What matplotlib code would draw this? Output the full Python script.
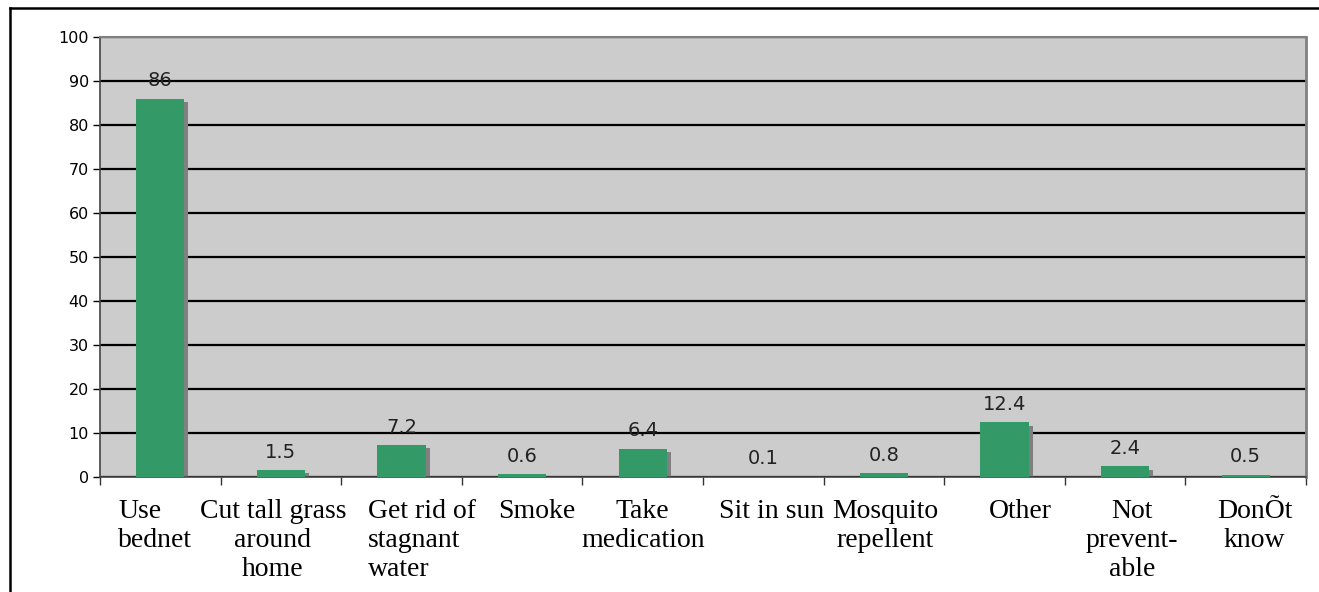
import matplotlib.pyplot as plt
import matplotlib.transforms as mtransforms
from matplotlib.lines import Line2D
import numpy as np

categories = ['Use\nbednet', 'Cut tall grass\naround\nhome', 'Get rid of\nstagnant\nwater', 'Smoke',
              'Take\nmedication', 'Sit in sun', 'Mosquito\nrepellent', 'Other',
              'Not\nprevent-\nable', 'DonÕt\nknow']
values = [86, 1.5, 7.2, 0.6, 6.4, 0.1, 0.8, 12.4, 2.4, 0.5]
value_labels = ['86', '1.5', '7.2', '0.6', '6.4', '0.1', '0.8', '12.4', '2.4', '0.5']
yticks = [0, 10, 20, 30, 40, 50, 60, 70, 80, 90, 100]

BAR = '#339966'
SHADOW = '#808080'
PLOT_BG = '#cccccc'

fig = plt.figure(figsize=(13.19, 5.92), dpi=100)
fig.patch.set_facecolor('white')
ax = fig.add_axes([100 / 1319, 1 - 477 / 592, 1206 / 1319, 440 / 592])
ax.set_facecolor(PLOT_BG)

x = np.arange(len(values))
w = 0.4
# shadow first, then the bar
px = 1.0 / 120.6
ax.bar(x + 4 * px, values, width=w, bottom=[-0.7] * len(values), color=SHADOW, zorder=2)
ax.bar(x, values, width=w, color=BAR, zorder=3)

ax.set_xlim(-0.5, len(values) - 0.5)
ax.set_ylim(0, 100)
ax.set_yticks(yticks)
ax.yaxis.grid(True, color='black', linewidth=1.6)
ax.set_axisbelow(True)
ax.tick_params(axis='y', direction='out', length=5, width=1, labelsize=11.5, pad=3, colors='black')
for lab in ax.get_yticklabels():
    lab.set_family('DejaVu Sans')

ax.set_xticks(np.arange(len(values) + 1) - 0.5)
ax.set_xticklabels([])
ax.tick_params(axis='x', direction='out', length=6, width=1, colors='#333333')

for s in ['left', 'bottom']:
    ax.spines[s].set_color('#444444')
    ax.spines[s].set_linewidth(1.2)
ax.spines['top'].set_color('#808080')
ax.spines['top'].set_linewidth(1.5)
ax.spines['right'].set_color('#808080')
ax.spines['right'].set_linewidth(2)

for i, (v, t) in enumerate(zip(values, value_labels)):
    ax.annotate(t, xy=(i, v), xytext=(0, 13), textcoords='offset points',
                ha='center', va='center', fontsize=14, family='DejaVu Sans', color='#222222', zorder=5)

# excel places the category labels a bit unevenly; shift in pixels
shift_px = [-5, -8, 20, 15, 0, 8, 1, 16, 7, 9]
aligns = ['left', 'center', 'left', 'center', 'center', 'center', 'center', 'center', 'center', 'center']
trans = mtransforms.blended_transform_factory(ax.transData, ax.transAxes)
for i, (c, a, s) in enumerate(zip(categories, aligns, shift_px)):
    ax.text(i + s * px, -0.05, c, transform=trans, ha='center', va='top', multialignment=a,
            fontsize=20, family='Liberation Serif', linespacing=1.2)

# outer frame
fig.add_artist(Line2D([10 / 1319, 1.0], [1 - 8 / 592, 1 - 8 / 592], transform=fig.transFigure, color='black', linewidth=1.8))
fig.add_artist(Line2D([10 / 1319, 10 / 1319], [0, 1 - 8 / 592], transform=fig.transFigure, color='black', linewidth=1.8))

fig.savefig('out.png', dpi=100, facecolor='white')
